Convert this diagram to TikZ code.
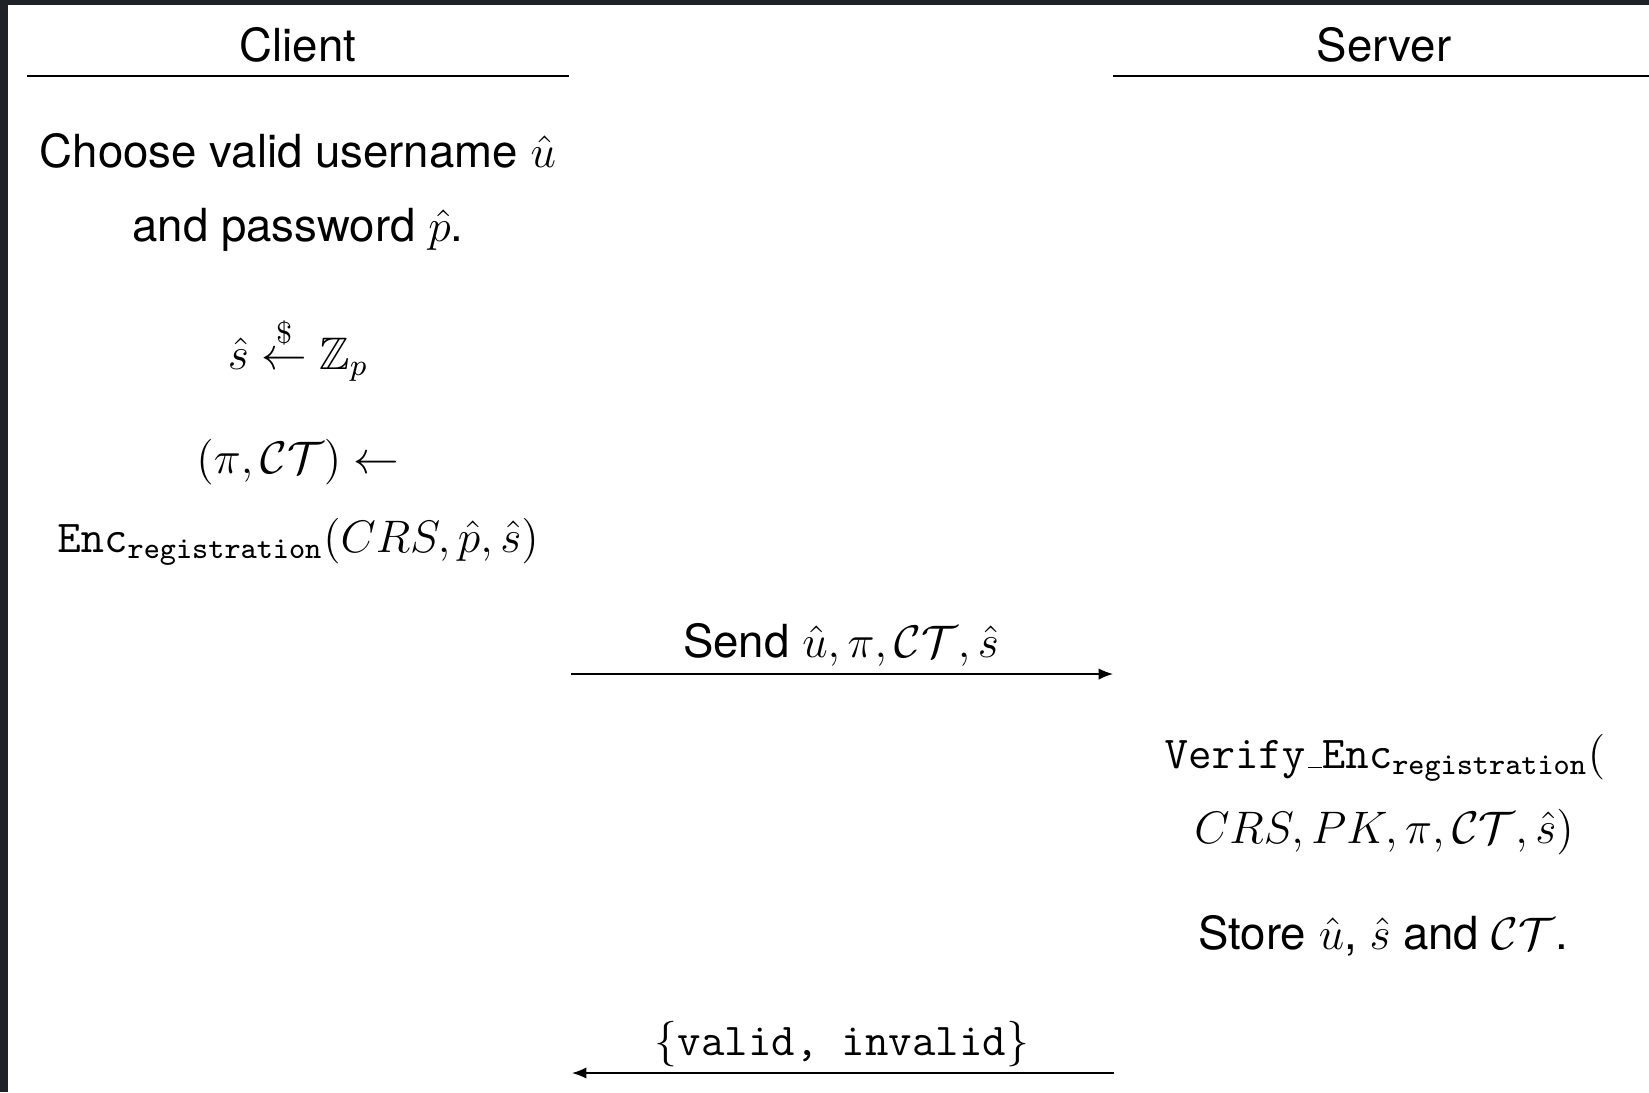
\documentclass[tikz,border=0pt]{standalone}
\usepackage{amsmath,amssymb}
\usepackage[no-math]{fontspec}
\setmainfont{TeX Gyre Heros}
\setmonofont{Latin Modern Mono}
\usetikzlibrary{arrows.meta}
\definecolor{frameband}{HTML}{1F2327}
% short rule used as the underscore in identifiers
\newcommand{\idsep}{\kern.06em\vbox{\hrule width.3em}}
\begin{document}
\begin{tikzpicture}[x=0.2632pt,y=-0.2632pt,
  txt/.style={anchor=base,inner sep=0pt,font=\fontsize{12}{14.4}\selectfont},
  rule/.style={line width=0.4pt},
  msg/.style={line width=0.4pt,-{Latex[length=3.8pt,width=3pt]}}]

\fill[white] (0,0) rectangle (1649,1092);
\useasboundingbox (0,0) rectangle (1649,1092);
\fill[frameband] (0,0) rectangle (1649,5);
\fill[frameband] (0,0) rectangle (8,1092);

% party headers
\node[txt] (client) at (298,61) {Client};
\node[txt] (server) at (1384,61) {Server};
\coordinate (cl) at (27,76);
\coordinate (cr) at (569,76);
\coordinate (sl) at (1113,76);
\coordinate (sr) at (1649,76);
\draw[rule] (cl) -- (cr);
\draw[rule] (sl) -- (sr);

% client side steps
\node[txt] (c1) at (298,167) {Choose valid username $\hat{u}$};
\node[txt] (c2) at (298,241) {and password $\hat{p}$.};
\node[txt] (c3) at (298,369) {$\hat{s} \stackrel{\$}{\leftarrow} \mathbb{Z}_p$};
\node[txt] (c4) at (298,473) {$(\pi, \mathcal{CT}) \leftarrow$};
\node[txt] (c5) at (298,552) {$\mathtt{Enc}_{\mathtt{registration}}(CRS, \hat{p}, \hat{s})$};

% first message
\coordinate (m1s) at (571,674);
\coordinate (m1e) at (1113,674);
\draw[msg] (m1s) -- (m1e);
\node[txt] (m1) at (841,657) {Send $\hat{u}, \pi, \mathcal{CT}, \hat{s}$};

% server side steps
\node[txt] (s1) at (1385,768) {$\mathtt{Verify}\idsep\mathtt{Enc}_{\mathtt{registration}}($};
\node[txt] (s2) at (1384,843) {$CRS, PK, \pi, \mathcal{CT}, \hat{s})$};
\node[txt] (s3) at (1383,949) {Store $\hat{u}$, $\hat{s}$ and $\mathcal{CT}$.};

% reply
\coordinate (m2s) at (1114,1073);
\coordinate (m2e) at (572,1073);
\draw[msg] (m2s) -- (m2e);
\node[txt] (m2) at (842,1055) {$\{$\texttt{valid, invalid}$\}$};
\end{tikzpicture}
\end{document}
